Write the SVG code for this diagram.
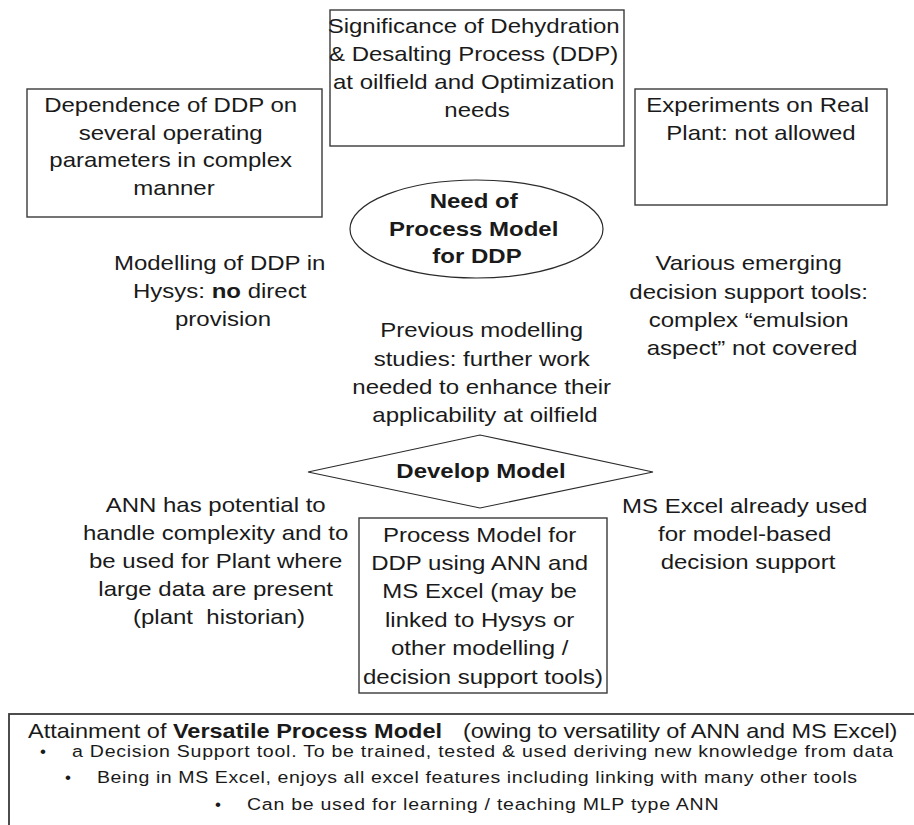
<svg xmlns="http://www.w3.org/2000/svg" width="914" height="825" viewBox="0 0 914 825">
<style>
  .bg { fill: #ffffff; }
  .box { fill: #ffffff; stroke: #3a3a3a; stroke-width: 1.4; }
  .shape { fill: #ffffff; stroke: #2a2a2a; stroke-width: 1.2; }
  .t { font-family: "Liberation Sans", Arial, sans-serif; font-size: 20px; fill: #1a1a1a; text-anchor: middle; }
  .b { font-weight: bold; }
  .s { font-family: "Liberation Sans", Arial, sans-serif; font-size: 17px; fill: #1a1a1a; text-anchor: start; }
  .bl { font-family: "Liberation Sans", Arial, sans-serif; font-size: 17px; fill: #1a1a1a; text-anchor: middle; }
</style>
<rect class="bg" x="0" y="0" width="914" height="825"/>
<g id="connectors"/>

<g id="significance">
  <rect class="box" x="330" y="10" width="294" height="136"/>
  <text class="t" transform="translate(477 0) scale(1.2 1)">
    <tspan x="0" y="33">Significance of Dehydration</tspan>
    <tspan x="0" y="61">&amp; Desalting Process (DDP)</tspan>
    <tspan x="0" y="89">at oilfield and Optimization</tspan>
    <tspan x="0" y="117">needs</tspan>
  </text>
</g>

<g id="dependence">
  <rect class="box" x="27" y="89" width="295" height="128"/>
  <text class="t" transform="translate(174 0) scale(1.2 1)">
    <tspan x="0" y="112">Dependence of DDP on</tspan>
    <tspan x="0" y="140">several operating</tspan>
    <tspan x="0" y="167">parameters in complex</tspan>
    <tspan x="0" y="195">manner</tspan>
  </text>
</g>

<g id="experiments">
  <rect class="box" x="635" y="89" width="252" height="116"/>
  <text class="t" transform="translate(761 0) scale(1.2 1)">
    <tspan x="0" y="112">Experiments on Real</tspan>
    <tspan x="0" y="140">Plant: not allowed</tspan>
  </text>
</g>

<g id="need">
  <ellipse class="shape" cx="476.5" cy="229" rx="126.5" ry="49"/>
  <text class="t b" transform="translate(477 0) scale(1.2 1)">
    <tspan x="0" y="208">Need of</tspan>
    <tspan x="0" y="236">Process Model</tspan>
    <tspan x="0" y="263">for DDP</tspan>
  </text>
</g>

<g id="hysys">
  <text class="t" transform="translate(223 0) scale(1.2 1)">
    <tspan x="0" y="270">Modelling of DDP in</tspan>
    <tspan x="0" y="298">Hysys: <tspan class="b">no</tspan> direct</tspan>
    <tspan x="0" y="326">provision</tspan>
  </text>
</g>

<g id="emerging">
  <text class="t" transform="translate(752 0) scale(1.2 1)">
    <tspan x="0" y="270">Various emerging</tspan>
    <tspan x="0" y="299">decision support tools:</tspan>
    <tspan x="0" y="327">complex “emulsion</tspan>
    <tspan x="0" y="355">aspect” not covered</tspan>
  </text>
</g>

<g id="previous">
  <text class="t" transform="translate(485 0) scale(1.2 1)">
    <tspan x="0" y="337">Previous modelling</tspan>
    <tspan x="0" y="366">studies: further work</tspan>
    <tspan x="0" y="394">needed to enhance their</tspan>
    <tspan x="0" y="422">applicability at oilfield</tspan>
  </text>
</g>

<g id="develop">
  <polygon class="shape" points="308,472 480,435 653,472 480,508"/>
  <text class="t b" transform="translate(481 0) scale(1.2 1)">
    <tspan x="0" y="478">Develop Model</tspan>
  </text>
</g>

<g id="ann">
  <text class="t" transform="translate(219 0) scale(1.2 1)">
    <tspan x="0" y="512">ANN has potential to</tspan>
    <tspan x="0" y="540">handle complexity and to</tspan>
    <tspan x="0" y="568">be used for Plant where</tspan>
    <tspan x="0" y="596">large data are present</tspan>
    <tspan x="0" y="624" style="white-space:pre">(plant  historian)</tspan>
  </text>
</g>

<g id="excel">
  <text class="t" transform="translate(748 0) scale(1.2 1)">
    <tspan x="0" y="513">MS Excel already used</tspan>
    <tspan x="0" y="541">for model-based</tspan>
    <tspan x="0" y="569">decision support</tspan>
  </text>
</g>

<g id="processmodel">
  <rect class="box" x="359" y="518" width="248" height="175"/>
  <text class="t" transform="translate(483 0) scale(1.2 1)">
    <tspan x="0" y="542">Process Model for</tspan>
    <tspan x="0" y="570">DDP using ANN and</tspan>
    <tspan x="0" y="598">MS Excel (may be</tspan>
    <tspan x="0" y="627">linked to Hysys or</tspan>
    <tspan x="0" y="655">other modelling /</tspan>
    <tspan x="0" y="684">decision support tools)</tspan>
  </text>
</g>

<g id="attainment">
  <rect class="box" x="9" y="714" width="930" height="140" style="stroke-width:1.8"/>
  <text class="t" style="text-anchor:start; font-size:19.6px" transform="translate(28 0) scale(1.2 1)"><tspan x="0" y="738">Attainment of </tspan><tspan class="b">Versatile Process Model</tspan></text>
  <text class="t" style="text-anchor:start; font-size:19.6px" transform="translate(463 0) scale(1.2 1)" textLength="362" lengthAdjust="spacing" x="0" y="738">(owing to versatility of ANN and MS Excel)</text>
  <text class="bl" x="43" y="757">•</text>
  <text class="s" transform="translate(72 0) scale(1.15 1)" x="0" y="757" textLength="714" lengthAdjust="spacing">a Decision Support tool. To be trained, tested &amp; used deriving new knowledge from data</text>
  <text class="bl" x="68" y="783">•</text>
  <text class="s" transform="translate(97 0) scale(1.15 1)" x="0" y="783" textLength="661" lengthAdjust="spacing">Being in MS Excel, enjoys all excel features including linking with many other tools</text>
  <text class="bl" x="218" y="810">•</text>
  <text class="s" transform="translate(247 0) scale(1.15 1)" x="0" y="810" textLength="410" lengthAdjust="spacing">Can be used for learning / teaching MLP type ANN</text>
</g>
</svg>
